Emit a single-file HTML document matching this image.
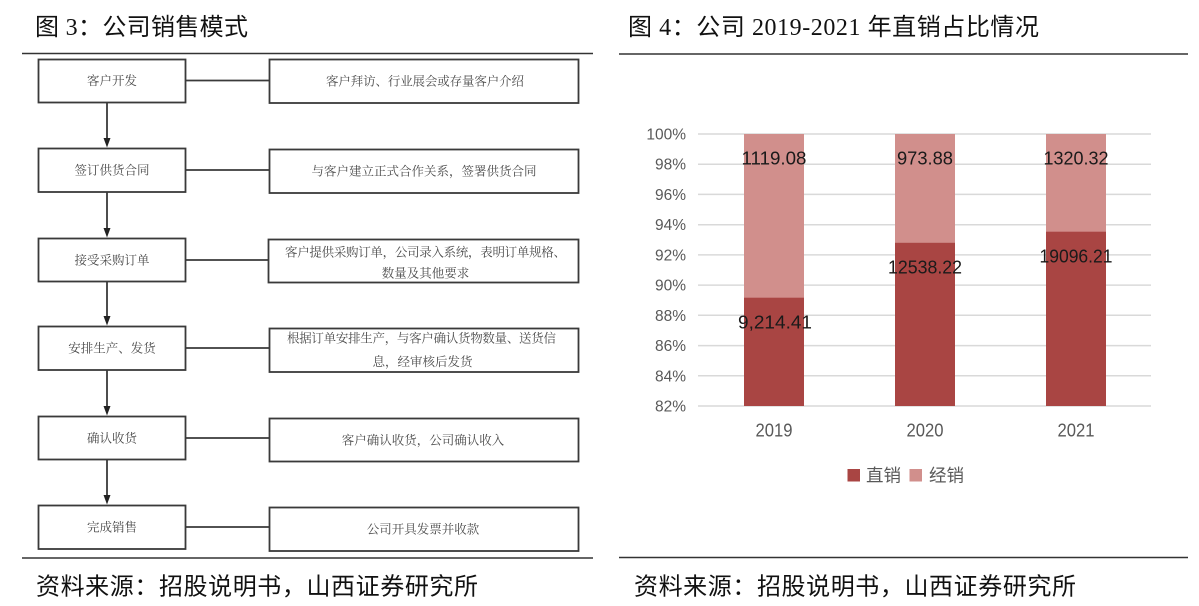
<!DOCTYPE html>
<html>
<head>
<meta charset="utf-8">
<style>
html,body{margin:0;padding:0;background:#fff;}
svg{display:block;}
.t{font-family:"Liberation Serif","Noto Sans CJK SC",sans-serif;font-size:24px;fill:#111;}
.f{font-family:"Liberation Sans","Noto Sans CJK SC",sans-serif;font-size:24px;fill:#111;}
.bx{font-family:"Liberation Serif","Noto Serif CJK SC",serif;font-size:12.5px;fill:#4a4a4a;}
.ax{font-family:"Liberation Sans","Noto Sans CJK SC",sans-serif;fill:#595959;}
.lb{font-family:"Liberation Sans",sans-serif;font-size:18.5px;fill:#1a1a1a;}
</style>
</head>
<body>
<svg width="1199" height="606" viewBox="0 0 1199 606" xmlns="http://www.w3.org/2000/svg">
<rect width="1199" height="606" fill="#fff"/>

<!-- Left title -->
<text class="t" x="35" y="35" textLength="213" lengthAdjust="spacing">图 3：公司销售模式</text>
<line x1="22" y1="53.5" x2="593" y2="53.5" stroke="#333" stroke-width="1.6"/>

<!-- Flowchart -->
<g fill="none" stroke="#3a3a3a" stroke-width="1.8">
  <rect x="38.5" y="59.5" width="147" height="43"/>
  <rect x="269.5" y="59.5" width="309" height="43.5"/>
  <rect x="38.5" y="148.5" width="147" height="43.5"/>
  <rect x="269.5" y="149.5" width="309" height="43.5"/>
  <rect x="38.5" y="238.5" width="147" height="43"/>
  <rect x="268.5" y="239.5" width="310" height="43"/>
  <rect x="38.5" y="326.5" width="147" height="43.5"/>
  <rect x="269.5" y="328.5" width="309" height="43.5"/>
  <rect x="38.5" y="416.5" width="147" height="43"/>
  <rect x="269.5" y="418.5" width="309" height="43"/>
  <rect x="38.5" y="505.5" width="147" height="43.5"/>
  <rect x="269.5" y="507.5" width="309" height="43.5"/>
  <!-- connectors -->
  <line x1="186" y1="80.5" x2="269" y2="80.5"/>
  <line x1="186" y1="170" x2="269" y2="170"/>
  <line x1="186" y1="260" x2="268" y2="260"/>
  <line x1="186" y1="348" x2="269" y2="348"/>
  <line x1="186" y1="438" x2="269" y2="438"/>
  <line x1="186" y1="527" x2="269" y2="527"/>
  <!-- vertical arrows -->
  <line x1="107" y1="102" x2="107" y2="139"/>
  <line x1="107" y1="192" x2="107" y2="229"/>
  <line x1="107" y1="281" x2="107" y2="317"/>
  <line x1="107" y1="370" x2="107" y2="407"/>
  <line x1="107" y1="459" x2="107" y2="496"/>
</g>
<g fill="#222">
  <polygon points="103.5,138 110.5,138 107,147.5"/>
  <polygon points="103.5,228 110.5,228 107,237.5"/>
  <polygon points="103.5,316 110.5,316 107,325.5"/>
  <polygon points="103.5,406 110.5,406 107,415.5"/>
  <polygon points="103.5,495 110.5,495 107,504.5"/>
</g>

<g class="bx" text-anchor="middle">
  <text x="112" y="85">客户开发</text>
  <text x="112" y="174.5">签订供货合同</text>
  <text x="112" y="264.5">接受采购订单</text>
  <text x="112" y="352.5">安排生产、发货</text>
  <text x="112" y="442.5">确认收货</text>
  <text x="112" y="531.5">完成销售</text>

  <text x="425" y="85.5" textLength="198" lengthAdjust="spacing">客户拜访、行业展会或存量客户介绍</text>
  <text x="424" y="175.5">与客户建立正式合作关系，签署供货合同</text>
  <text x="425.5" y="256.3" textLength="281" lengthAdjust="spacing">客户提供采购订单，公司录入系统，表明订单规格、</text>
  <text x="425.5" y="277.3">数量及其他要求</text>
  <text x="421.5" y="342.5" textLength="269" lengthAdjust="spacing">根据订单安排生产，与客户确认货物数量、送货信</text>
  <text x="422.5" y="366.2">息，经审核后发货</text>
  <text x="423" y="444.5">客户确认收货，公司确认收入</text>
  <text x="423" y="533.5">公司开具发票并收款</text>
</g>

<line x1="22" y1="558" x2="593" y2="558" stroke="#333" stroke-width="1.6"/>
<text class="f" x="36" y="594.5" textLength="442" lengthAdjust="spacing">资料来源：招股说明书，山西证券研究所</text>

<!-- Right title -->
<text class="t" x="628" y="35" textLength="411" lengthAdjust="spacing">图 4：公司 2019-2021 年直销占比情况</text>
<line x1="619" y1="54" x2="1188" y2="54" stroke="#333" stroke-width="1.6"/>

<!-- Chart gridlines -->
<g stroke="#d9d9d9" stroke-width="1.5">
  <line x1="698" y1="134" x2="1151" y2="134"/>
  <line x1="698" y1="164.2" x2="1151" y2="164.2"/>
  <line x1="698" y1="194.4" x2="1151" y2="194.4"/>
  <line x1="698" y1="224.7" x2="1151" y2="224.7"/>
  <line x1="698" y1="254.9" x2="1151" y2="254.9"/>
  <line x1="698" y1="285.1" x2="1151" y2="285.1"/>
  <line x1="698" y1="315.3" x2="1151" y2="315.3"/>
  <line x1="698" y1="345.6" x2="1151" y2="345.6"/>
  <line x1="698" y1="375.8" x2="1151" y2="375.8"/>
  <line x1="698" y1="406" x2="1151" y2="406"/>
</g>

<!-- Y labels -->
<g class="ax" font-size="15.5" text-anchor="end">
  <text x="686" y="139.5">100%</text>
  <text x="686" y="169.7">98%</text>
  <text x="686" y="199.9">96%</text>
  <text x="686" y="230.2">94%</text>
  <text x="686" y="260.4">92%</text>
  <text x="686" y="290.6">90%</text>
  <text x="686" y="320.8">88%</text>
  <text x="686" y="351.1">86%</text>
  <text x="686" y="381.3">84%</text>
  <text x="686" y="411.5">82%</text>
</g>

<!-- Bars -->
<g>
  <rect x="744" y="134" width="60" height="164" fill="#d18f8c"/>
  <rect x="744" y="297.7" width="60" height="108.3" fill="#a94543"/>
  <rect x="895" y="134" width="60" height="109" fill="#d18f8c"/>
  <rect x="895" y="242.8" width="60" height="163.2" fill="#a94543"/>
  <rect x="1046" y="134" width="60" height="98" fill="#d18f8c"/>
  <rect x="1046" y="231.7" width="60" height="174.3" fill="#a94543"/>
</g>

<!-- Data labels -->
<g class="lb" text-anchor="middle">
  <text x="774" y="164.6" textLength="65" lengthAdjust="spacingAndGlyphs">1119.08</text>
  <text x="925" y="164.6" textLength="56" lengthAdjust="spacingAndGlyphs">973.88</text>
  <text x="1076" y="164.6" textLength="65" lengthAdjust="spacingAndGlyphs">1320.32</text>
  <text x="775" y="328.6" textLength="74" lengthAdjust="spacingAndGlyphs">9,214.41</text>
  <text x="925" y="273.4" textLength="74" lengthAdjust="spacingAndGlyphs">12538.22</text>
  <text x="1076" y="262.6" textLength="73" lengthAdjust="spacingAndGlyphs">19096.21</text>
</g>

<!-- X labels -->
<g class="ax" font-size="18.5" text-anchor="middle">
  <text x="774" y="436.7" textLength="37" lengthAdjust="spacingAndGlyphs">2019</text>
  <text x="925" y="436.7" textLength="37" lengthAdjust="spacingAndGlyphs">2020</text>
  <text x="1076" y="436.7" textLength="37" lengthAdjust="spacingAndGlyphs">2021</text>
</g>

<!-- Legend -->
<rect x="847.5" y="469" width="12.5" height="12.5" fill="#a94543"/>
<text class="ax" x="866" y="481.5" font-size="17.5">直销</text>
<rect x="909.5" y="469" width="12.5" height="12.5" fill="#d18f8c"/>
<text class="ax" x="929" y="481.5" font-size="17.5">经销</text>

<line x1="619" y1="557.5" x2="1188" y2="557.5" stroke="#333" stroke-width="1.6"/>
<text class="f" x="634" y="594.5" textLength="442" lengthAdjust="spacing">资料来源：招股说明书，山西证券研究所</text>
</svg>
</body>
</html>
